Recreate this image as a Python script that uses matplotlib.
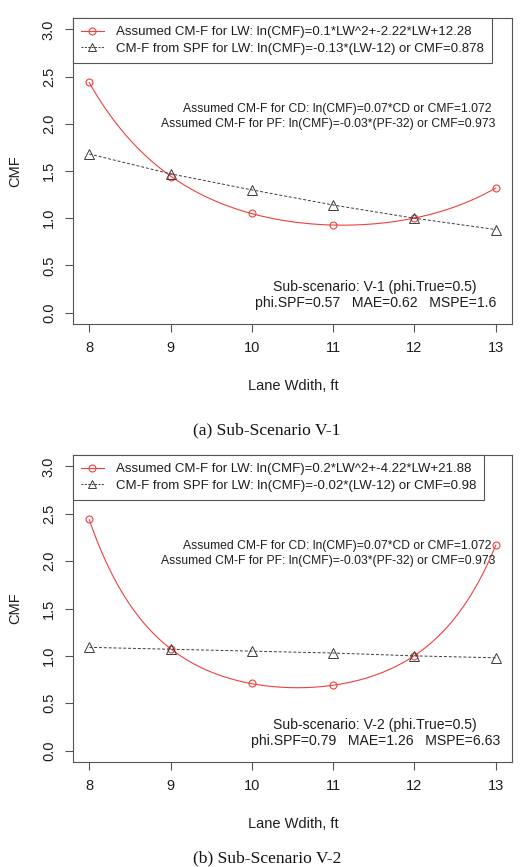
import matplotlib
matplotlib.use("Agg")
import matplotlib.pyplot as plt
import numpy as np

plt.rcParams['font.family'] = ['Liberation Sans', 'DejaVu Sans']

# lane width (ft)
lane_width = [8, 9, 10, 11, 12, 13]

# sub-scenario V-1
v1_assumed = [2.44, 1.44, 1.05, 0.93, 1.00, 1.32]
v1_spf = [1.68, 1.47, 1.30, 1.14, 1.00, 0.88]
v1_legend = ["Assumed CM-F for LW: ln(CMF)=0.1*LW^2+-2.22*LW+12.28",
             "CM-F from SPF for LW: ln(CMF)=-0.13*(LW-12) or CMF=0.878"]
v1_stats = ["Sub-scenario: V-1 (phi.True=0.5)",
            "phi.SPF=0.57   MAE=0.62   MSPE=1.6"]

# sub-scenario V-2
v2_assumed = [2.44, 1.07, 0.71, 0.69, 1.00, 2.17]
v2_spf = [1.09, 1.07, 1.05, 1.03, 1.00, 0.98]
v2_legend = ["Assumed CM-F for LW: ln(CMF)=0.2*LW^2+-4.22*LW+21.88",
             "CM-F from SPF for LW: ln(CMF)=-0.02*(LW-12) or CMF=0.98"]
v2_stats = ["Sub-scenario: V-2 (phi.True=0.5)",
            "phi.SPF=0.79   MAE=1.26   MSPE=6.63"]

other_cmf = ["Assumed CM-F for CD: ln(CMF)=0.07*CD or CMF=1.072",
             "Assumed CM-F for PF: ln(CMF)=-0.03*(PF-32) or CMF=0.973"]
captions = ["(a) Sub-Scenario V-1", "(b) Sub-Scenario V-2"]
yticks = [0.0, 0.5, 1.0, 1.5, 2.0, 2.5, 3.0]

W, H = 522, 867
RED = '#ee4040'
GREY = '#3a3a3a'
BOX = '#555555'
TXT = '#1e1e1e'
FS = 8.75


def panel(ax, assumed, spf, legend_txt, stats):
    x = np.array(lane_width, dtype=float)
    # smooth line: quadratic in ln(CMF) fitted to the plotted points
    coef = np.polyfit(x, np.log(assumed), 2)
    xs = np.linspace(x[0], x[-1], 200)
    ax.plot(xs, np.exp(np.polyval(coef, xs)), color=RED, lw=0.8)
    ax.plot(x, assumed, 'o', mfc='none', mec=RED, ms=5, mew=0.8)
    ax.plot(x, spf, ls=(0, (3, 2)), color=GREY, lw=0.7,
            marker='^', mfc='none', mec=GREY, ms=7.5, mew=0.7)

    h1 = plt.Line2D([], [], color=RED, lw=0.8, marker='o', mfc='none', mec=RED, ms=5, mew=0.8)
    h2 = plt.Line2D([], [], color=GREY, lw=0.7, ls=(0, (2, 1.5)), marker='^', mfc='none',
                    mec=GREY, ms=6, mew=0.7)
    leg = ax.legend([h1, h2], legend_txt, loc='upper left', borderaxespad=0,
                    fancybox=False, fontsize=9.5, handlelength=1.75, handletextpad=0.9,
                    borderpad=0.6, labelspacing=0.32, framealpha=1, numpoints=1)
    leg.get_frame().set_edgecolor(BOX)
    leg.get_frame().set_linewidth(0.8)
    for t in leg.get_texts():
        t.set_color(TXT)

    ax.text(12.95, 2.16, other_cmf[0], ha='right', va='center', fontsize=FS, color=TXT)
    ax.text(13.0, 2.0, other_cmf[1], ha='right', va='center', fontsize=FS, color=TXT)
    ax.text(11.51, 0.275, stats[0], ha='center', va='center', fontsize=10.1, color=TXT)
    ax.text(11.52, 0.105, stats[1], ha='center', va='center', fontsize=10.1, color=TXT)

    ax.set_xlim(7.8, 13.2)
    ax.set_ylim(-0.12, 3.12)
    ax.set_xticks(lane_width)
    ax.set_yticks(yticks)
    ax.set_yticklabels(["%.1f" % v for v in yticks], rotation=90, va='center')
    ax.tick_params(length=5.8, width=0.8, color=BOX, labelsize=10.5, labelcolor=TXT)
    ax.tick_params(axis='x', pad=6.5)
    ax.tick_params(axis='y', pad=6.5)
    for s in ax.spines.values():
        s.set_color(BOX)
        s.set_linewidth(0.8)


fig = plt.figure(figsize=(W / 100, H / 100), dpi=100)
tops = [(18, 324), (455, 762)]
series = [(v1_assumed, v1_spf, v1_legend, v1_stats),
          (v2_assumed, v2_spf, v2_legend, v2_stats)]
cap_y = [430, 858]
for i, ((top, bot), data) in enumerate(zip(tops, series)):
    ax = fig.add_axes([73 / W, 1 - bot / H, 439 / W, (bot - top) / H])
    panel(ax, *data)
    fig.text(15 / W, 1 - (top + bot) / 2 / H, "CMF", rotation=90, ha='center', va='center',
             fontsize=10.5, color=TXT)
    fig.text(293 / W, 1 - (bot + 62) / H, "Lane Wdith, ft", ha='center', va='center',
             fontsize=10.5, color=TXT)
    fig.text(267 / W, 1 - cap_y[i] / H, captions[i], ha='center', va='center',
             fontsize=12.6, color='#111111', family=['Liberation Serif', 'DejaVu Serif'])

fig.savefig('out.png', dpi=100, facecolor='white')
